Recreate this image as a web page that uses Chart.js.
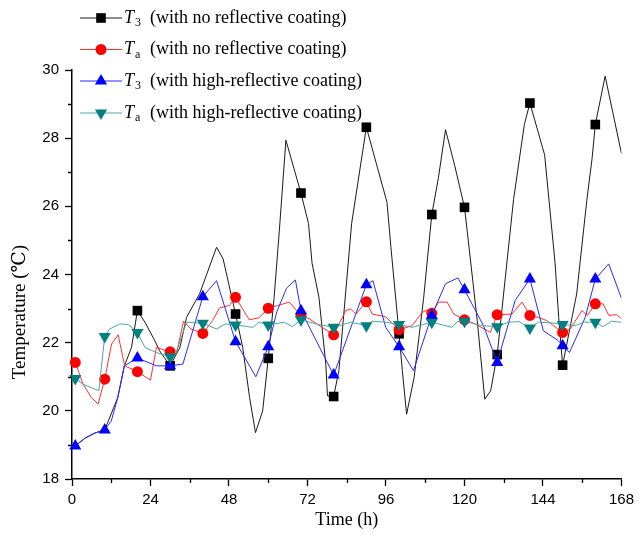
<!DOCTYPE html>
<html>
<head>
<meta charset="utf-8">
<script src="https://cdn.jsdelivr.net/npm/chart.js@4.4.0/dist/chart.umd.min.js"></script>
<style>
  html, body { margin: 0; padding: 0; background: #fff; }
  #chart { display: block; }
</style>
</head>
<body>
<canvas id="chart" width="639" height="542"></canvas>
<script>
// hours where the symbols sit (one every 10 h)
const markerHours = [1, 10, 20, 30, 40, 50, 60, 70, 80, 90, 100, 110, 120, 130, 140, 150, 160];

// T3, no reflective coating
const t3NoHours = [1, 4, 7, 10, 14, 16, 18.2, 20, 22.3, 25.3, 26.8, 30, 33, 35, 39, 44.2, 46.2, 50, 52.2, 54.3,
  56.1, 58.3, 60, 61.8, 63.4, 65.4, 70, 72.3, 73.4, 75.5, 77.6, 78.1, 80, 81.6, 85.5, 90, 96.3, 97.5, 100, 101,
  102.3, 104.6, 107.5, 110, 112, 114.2, 117, 120, 120.8, 123.9, 126.2, 128, 130, 135, 138.3, 140, 144.5, 147.7,
  148.8, 150, 154.3, 157.4, 159, 160, 163, 168];
const t3NoTemps = [18.97, 19.2, 19.35, 19.44, 20.39, 21.32, 21.86, 22.94, 22.6, 22.06, 21.76, 21.32, 21.86, 22.74,
  23.43, 24.8, 24.46, 22.84, 21.86, 20.39, 19.36, 20.0, 21.54, 23.33, 25.3, 27.94, 26.39, 25.5, 24.33, 23.33,
  21.37, 20.44, 20.42, 21.18, 25.5, 28.32, 26.12, 24.8, 22.26, 21.18, 19.9, 20.98, 23.3, 25.76, 26.82, 28.25,
  27.2, 25.97, 25.3, 22.65, 20.34, 20.59, 21.65, 26.2, 28.4, 29.03, 27.51, 24.33, 22.74, 21.34, 23.43, 26.18,
  27.4, 28.4, 29.82, 27.55];
const t3NoMarks = [null, null, 22.94, 21.32, null, 22.84, 21.54, 26.39, 20.42, 28.32, 22.26, 25.76, 25.97, 21.65,
  29.03, 21.34, 28.4];

// Ta, no reflective coating
const taNoHours = [1, 3.4, 5.9, 8, 10, 12.1, 14.1, 16.1, 20, 24, 25.8, 30, 31.9, 34.1, 36.4, 40, 43, 45.1, 48.1,
  50, 54.2, 57.2, 60, 62.9, 66.4, 70, 72.5, 76.5, 80, 83.7, 85.2, 86.8, 90, 91.8, 95.9, 100, 104, 107.1, 108.6,
  110, 112.1, 114.7, 116.7, 120, 123.3, 127.9, 130, 134.5, 137.6, 140, 142.6, 145.1, 150, 152.3, 155.9, 157.6,
  160, 162.4, 164.1, 166.5, 168];
const taNoTemps = [21.42, 20.78, 20.39, 20.2, 20.93, 21.96, 22.23, 21.32, 21.15, 20.9, 21.86, 21.73, 21.67, 22.63,
  22.4, 22.27, 22.65, 23.02, 23.09, 23.33, 22.67, 22.73, 23.01, 23.09, 23.19, 22.8, 22.7, 22.45, 22.23, 22.94,
  22.99, 22.84, 23.2, 22.84, 22.76, 22.38, 22.5, 22.89, 22.96, 22.86, 23.19, 23.19, 22.84, 22.67, 22.55, 22.3,
  22.82, 22.84, 23.19, 22.8, 22.74, 22.65, 22.3, 22.4, 22.94, 22.8, 23.14, 23.14, 22.8, 22.82, 22.7];
const taNoMarks = [21.42, 20.93, 21.15, 21.73, 22.27, 23.33, 23.01, 22.8, 22.23, 23.2, 22.38, 22.86, 22.67, 22.82,
  22.8, 22.3, 23.14];

// T3, high-reflective coating
const t3HiHours = [1, 4, 7, 10, 12, 14, 16, 20, 25.8, 30, 33.9, 40, 44.2, 50, 56.2, 60, 62.6, 65.6, 68.3, 70, 80,
  90, 92, 95.9, 100, 104.4, 110, 114.2, 118, 120, 125.8, 130, 135.5, 140, 144.1, 148.7, 150, 152.1, 156.9, 160,
  164.1, 168];
const t3HiTemps = [18.97, 19.2, 19.35, 19.44, 19.7, 20.39, 21.32, 21.55, 21.32, 21.32, 21.37, 23.35, 23.82, 22.03,
  21.0, 21.88, 22.9, 23.6, 23.84, 22.94, 21.05, 23.7, 23.82, 22.45, 21.88, 21.18, 22.8, 23.73, 23.9, 23.55, 22.5,
  21.42, 23.24, 23.87, 22.35, 22.06, 21.91, 21.71, 22.74, 23.87, 24.31, 23.3];
const t3HiMarks = [18.97, 19.44, 21.55, 21.32, 23.35, 22.03, 21.88, 22.94, 21.05, 23.7, 21.88, 22.8, 23.55, 21.42,
  23.87, 21.91, 23.87];

// Ta, high-reflective coating
const taHiHours = [1, 3.4, 8.2, 10, 11.5, 14.6, 17.2, 20, 22.3, 25.8, 30, 31.8, 35, 40, 44.2, 46.8, 50, 55.3, 57.2,
  60, 64.9, 67.4, 70, 75.5, 80, 85.2, 90, 91.8, 96, 100, 104, 110, 116.2, 117.8, 120, 125.3, 130, 133.5, 136.7,
  140, 142.6, 146.7, 150, 153.8, 156.6, 160, 162.4, 164.9, 168];
const taHiTemps = [20.95, 20.78, 20.59, 22.18, 22.4, 22.55, 22.53, 22.3, 21.86, 21.71, 21.59, 21.7, 22.6, 22.57,
  22.4, 22.55, 22.52, 22.45, 22.6, 22.52, 22.6, 22.47, 22.67, 22.53, 22.45, 22.6, 22.5, 22.63, 22.6, 22.53, 22.45,
  22.6, 22.45, 22.62, 22.63, 22.5, 22.47, 22.6, 22.62, 22.43, 22.6, 22.58, 22.53, 22.5, 22.6, 22.6, 22.47, 22.63,
  22.6];
const taHiMarks = [20.95, 22.18, 22.3, 21.59, 22.57, 22.52, 22.52, 22.67, 22.45, 22.5, 22.53, 22.6, 22.63, 22.47,
  22.43, 22.53, 22.6];

const legendSubs = ["3", "a", "3", "a"];
const legendNotes = ["(with no reflective coating)", "(with no reflective coating)",
  "(with high-reflective coating)", "(with high-reflective coating)"];

const serif = '"Liberation Serif", "Times New Roman", "DejaVu Serif", serif';
const sans = '"Liberation Sans", Arial, sans-serif';

function pairs(xs, ys) {
  return xs.map((x, i) => ({ x: x, y: ys[i] })).filter(p => p.y !== null);
}

const styles = [
  { line: "#1a1a1a", fill: "#000000", shape: "rect", rot: 0, r: 6.8 },
  { line: "#ff3030", fill: "#ff0000", shape: "circle", rot: 0, r: 5.5 },
  { line: "#2a2aff", fill: "#0000ff", shape: "triangle", rot: 0, r: 7 },
  { line: "#4ea6a0", fill: "#008080", shape: "triangle", rot: 180, r: 7 }
];
const lineData = [pairs(t3NoHours, t3NoTemps), pairs(taNoHours, taNoTemps),
  pairs(t3HiHours, t3HiTemps), pairs(taHiHours, taHiTemps)];
const markData = [pairs(markerHours, t3NoMarks), pairs(markerHours, taNoMarks),
  pairs(markerHours, t3HiMarks), pairs(markerHours, taHiMarks)];

const datasets = [];
styles.forEach((s, i) => {
  datasets.push({
    data: lineData[i], borderColor: s.line, borderWidth: 1, pointRadius: 0,
    tension: 0, fill: false, order: 7 - i * 2
  });
  datasets.push({
    data: markData[i], showLine: false, pointStyle: s.shape, rotation: s.rot, pointRadius: s.r,
    pointBackgroundColor: s.fill, pointBorderColor: s.fill, pointBorderWidth: 0, clip: false,
    order: 6 - i * 2
  });
});

// minor ticks, y title and the legend drawn on top of the chart
const extras = {
  id: "extras",
  afterDraw(chart) {
    const ctx = chart.ctx;
    const x = chart.scales.x, y = chart.scales.y;
    const area = chart.chartArea;
    ctx.save();
    ctx.strokeStyle = "#000";
    ctx.lineWidth = 1.3;
    ctx.beginPath();
    for (let h = 12; h < 168; h += 24) {
      const px = Math.round(x.getPixelForValue(h)) + 0.5;
      ctx.moveTo(px, area.bottom);
      ctx.lineTo(px, area.bottom + 4);
    }
    for (let t = 19; t < 30; t += 2) {
      const py = Math.round(y.getPixelForValue(t)) + 0.5;
      ctx.moveTo(area.left, py);
      ctx.lineTo(area.left - 4, py);
    }
    ctx.stroke();

    // y axis title
    ctx.fillStyle = "#000";
    ctx.font = "19px " + serif;
    ctx.textAlign = "center";
    ctx.textBaseline = "middle";
    ctx.translate(20, 312);
    ctx.rotate(-Math.PI / 2);
    ctx.fillText("Temperature (\u2103)", 0, 0);
    ctx.restore();

    // legend
    const rows = [18, 49.5, 81, 113];
    ctx.save();
    rows.forEach((ry, i) => {
      const s = styles[i];
      ctx.strokeStyle = s.line;
      ctx.lineWidth = 1;
      ctx.beginPath();
      ctx.moveTo(80, ry);
      ctx.lineTo(122, ry);
      ctx.stroke();
      ctx.fillStyle = s.fill;
      Chart.helpers.drawPoint(ctx, { pointStyle: s.shape, rotation: s.rot, radius: s.r, borderWidth: 0 }, 101, ry);
      ctx.fillStyle = "#000";
      ctx.textAlign = "left";
      ctx.textBaseline = "middle";
      ctx.font = "italic 18px " + serif;
      ctx.fillText("T", 124, ry);
      const tw = ctx.measureText("T").width;
      ctx.font = "12px " + serif;
      ctx.fillText(legendSubs[i], 124 + tw + 1, ry + 5);
      ctx.font = "18px " + serif;
      ctx.fillText(legendNotes[i], 150, ry);
    });
    ctx.restore();
  }
};

new Chart(document.getElementById("chart"), {
  type: "line",
  data: { datasets: datasets },
  options: {
    responsive: false,
    animation: false,
    devicePixelRatio: 1,
    layout: { padding: { top: 70, right: 16, left: 0, bottom: 0 } },
    plugins: { legend: { display: false }, tooltip: { enabled: false } },
    scales: {
      x: {
        type: "linear", min: 0, max: 168,
        ticks: { stepSize: 24, color: "#000", font: { family: sans, size: 15 }, padding: 5, maxRotation: 0 },
        grid: { drawOnChartArea: false, tickLength: 7, tickColor: "#000", tickWidth: 1.3 },
        border: { color: "#000", width: 1.5 },
        title: { display: true, text: "Time (h)", color: "#000", font: { family: serif, size: 18 },
          padding: { top: 0, bottom: 11 } },
        afterFit(scale) { scale.height = 63; }
      },
      y: {
        type: "linear", min: 18, max: 30,
        ticks: { stepSize: 2, color: "#000", font: { family: sans, size: 15 }, padding: 6 },
        grid: { drawOnChartArea: false, tickLength: 7, tickColor: "#000", tickWidth: 1.3 },
        border: { color: "#000", width: 1.5 },
        afterFit(scale) { scale.width = 72; }
      }
    }
  },
  plugins: [extras]
});
</script>
</body>
</html>
